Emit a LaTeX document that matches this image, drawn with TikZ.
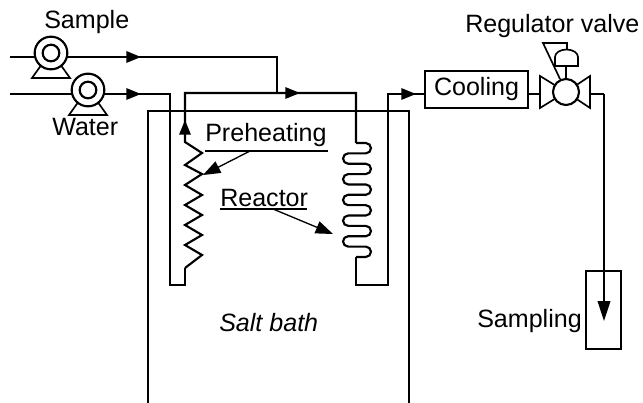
\documentclass[tikz,border=0pt]{standalone}
\usepackage{fontspec}
\setmainfont{Liberation Sans}
\usetikzlibrary{arrows.meta}

\tikzset{
  pipe/.style={line width=1.6pt},
  thinline/.style={line width=1.25pt},
  flowtip/.style={-{Triangle[length=11pt,width=8.5pt]}},
  droptip/.style={-{Triangle[length=15pt,width=9.5pt]}},
  pointer/.style={line width=1pt,-{Triangle[length=13pt,width=9.5pt]}},
  label/.style={anchor=base west,inner sep=0pt,font=\fontsize{18.8}{20}\selectfont},
  pumpbody/.style={circle,draw,pipe,fill=white,inner sep=0pt,minimum size=24.5pt},
  pumpeye/.style={circle,draw,pipe,fill=white,inner sep=0pt,minimum size=12.5pt},
}

\begin{document}
\begin{tikzpicture}[x=0.75pt,y=-0.75pt]
\useasboundingbox (0,0) rectangle (643,403);

% salt bath
\coordinate (bathTL) at (148,111); \coordinate (bathTR) at (409,111);
\coordinate (bathBL) at (148,403); \coordinate (bathBR) at (409,403);
\draw[thinline] (bathBL) -- (bathTL) -- (bathTR) -- (bathBR);
\node[label,font=\fontsize{18.8}{20}\selectfont\itshape] (bath) at (219,331) {Salt bath};

% feed lines
\coordinate (sampleIn) at (10,57);  \coordinate (sampleTip) at (141,57);
\coordinate (sampleEnd) at (277,57); \coordinate (sampleJoin) at (277,93);
\coordinate (waterIn) at (10,94);   \coordinate (waterTip) at (141,94);
\coordinate (waterEnd) at (170,94); \coordinate (waterLow) at (170,285);
\coordinate (preLow) at (185,285);  \coordinate (preStart) at (185,268);
\draw[pipe] (sampleIn) -- (sampleEnd) -- (sampleJoin);
\draw[pipe,flowtip] (sampleIn) -- (sampleTip);
\draw[pipe] (waterIn) -- (waterEnd) -- (waterLow) -- (preLow) -- (preStart);
\draw[pipe,flowtip] (waterIn) -- (waterTip);

% pumps
\foreach \pname/\px/\py in {samplePump/51/53,waterPump/88/90}{
  \draw[thinline] (\px-19,\py+25) -- (\px+19,\py+25) -- (\px+9,\py+11) -- (\px-9,\py+11) -- cycle;
  \node[pumpbody] (\pname) at (\px,\py) {};
  \node[pumpeye] (\pname Eye) at (\px,\py) {};
}
\node[label] (sample) at (44,29) {Sample};
\node[label] (water) at (52,136) {Water};

% preheating coil
\coordinate (coilTop) at (185,142); \coordinate (preTip) at (185,120);
\coordinate (preTop) at (185,93);   \coordinate (joinTip) at (300,93);
\coordinate (reactTop) at (356,93); \coordinate (reactIn) at (356,143);
\draw[pipe] (preStart) -- (202,255) -- (185,245) -- (202,235) -- (185,225)
  -- (202,215) -- (185,205) -- (202,195) -- (185,185) -- (202,174) -- (185,165) -- (202,153) -- (coilTop)
  -- (preTop) -- (reactTop) -- (reactIn);
\draw[pipe,flowtip] (coilTop) -- (preTip);
\draw[pipe,flowtip] (preTop) -- (joinTip);

% reactor coil
\draw[pipe] (reactIn) -- (365.8,143)
  \foreach \k in {0,...,4}{
    arc (-90:90:5.18) -- (348.2,143+20.72*\k+10.36)
    arc (270:90:5.18) -- (365.8,143+20.72*\k+20.72)
  }
  arc (-90:90:5.18) -- (356,256.96) coordinate (reactOut);

% cooling and valve
\node[draw,pipe,inner sep=0pt,minimum width=77pt,minimum height=27.5pt,
  font=\fontsize{18.8}{20}\selectfont] (cooling) at (476.5,89.5) {Cooling};
\coordinate (outLow) at (356,285); \coordinate (outCorner) at (388,285);
\coordinate (outTop) at (388,94);  \coordinate (outTip) at (416,94);
\draw[pipe] (reactOut) -- (outLow) -- (outCorner) -- (outTop) -- (cooling.west |- outTop);
\draw[pipe,flowtip] (outTop) -- (outTip);
\coordinate (valveIn) at (540,94); \coordinate (valveOut) at (590,94);
\coordinate (drop) at (604,94);    \coordinate (dropTip) at (604,321);
\draw[pipe] (cooling.east |- valveIn) -- (valveIn);
\draw[thinline] (540,76) -- (566,92) -- (540,108) -- cycle;
\draw[thinline] (590,76) -- (566,92) -- (590,108) -- cycle;
\draw[pipe] (valveOut) -- (drop);
\draw[thinline,droptip] (drop) -- (dropTip);
\node[circle,draw,pipe,fill=white,inner sep=0pt,minimum size=19.5pt] (valve) at (566,92) {};

% actuator
\coordinate (stemTop) at (566,66);
\draw[thinline] (valve.north) -- (stemTop);
\draw[thinline] (555,66) -- (578,66) -- (578,57) arc (0:-180:11.5 and 7.5) -- cycle;
\draw[thinline] (567,50) -- (567,43) -- (543,43) -- (560,79);
\node[label] (regulator) at (465,33) {Regulator valve};

% sampling
\node[draw,thinline,inner sep=0pt,minimum width=26.5pt,minimum height=58.5pt] (vessel) at (603.5,310) {};
\node[label] (sampling) at (477,327) {Sampling};

% callouts
\node[label] (preheating) at (205,142) {Preheating};
\coordinate (preLine) at (205,151); \coordinate (preLineEnd) at (328,151);
\coordinate (preFrom) at (250,151); \coordinate (preTo) at (203,175);
\draw[thinline] (preLine) -- (preLineEnd);
\draw[pointer] (preFrom) -- (preTo);
\node[label] (reactor) at (220,206) {Reactor};
\coordinate (reLine) at (220,209); \coordinate (reLineEnd) at (307,209);
\coordinate (reFrom) at (273,209); \coordinate (reTo) at (333,234);
\draw[thinline] (reLine) -- (reLineEnd);
\draw[pointer] (reFrom) -- (reTo);

\end{tikzpicture}
\end{document}
